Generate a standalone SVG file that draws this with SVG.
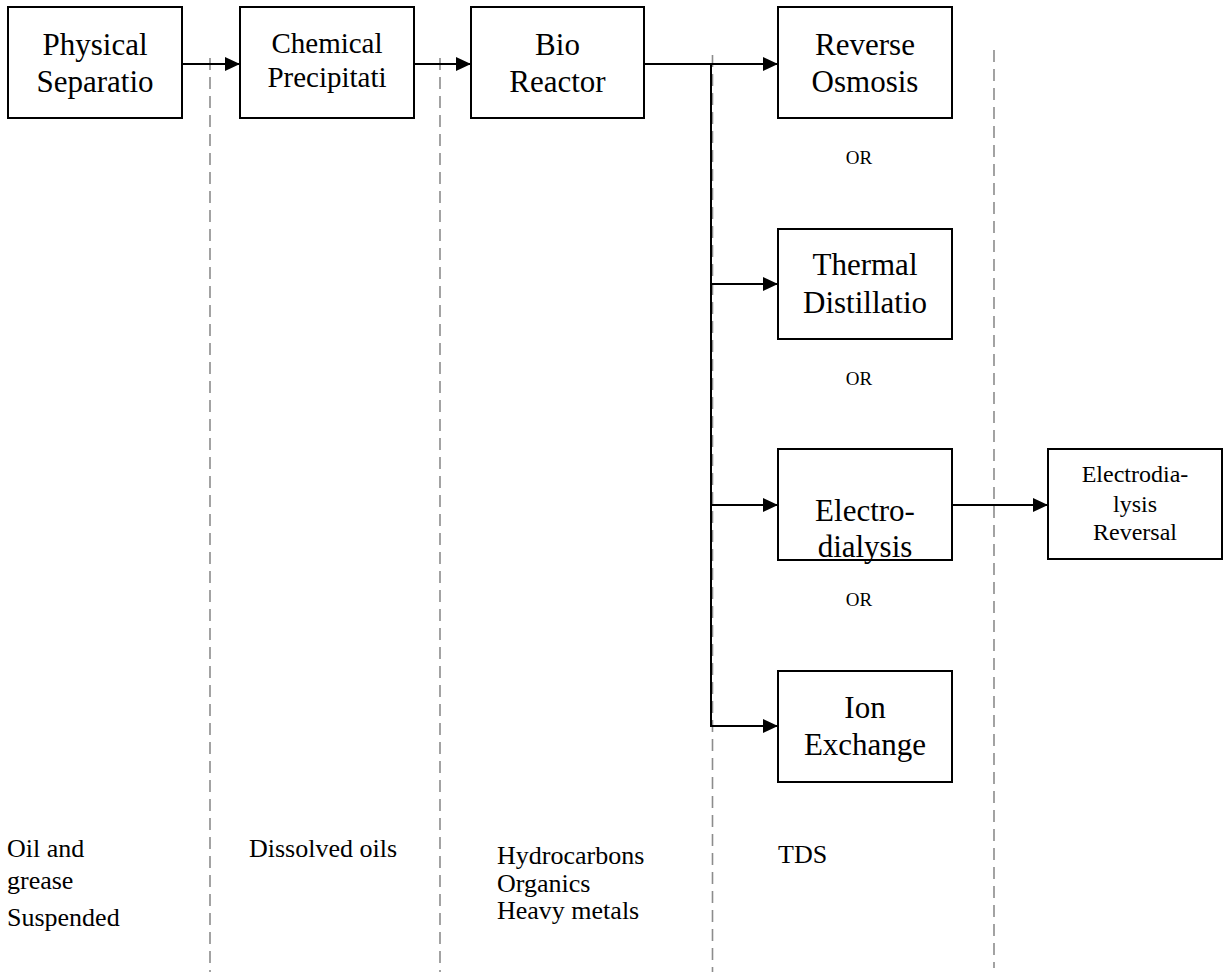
<svg xmlns="http://www.w3.org/2000/svg" width="1225" height="976" viewBox="0 0 1225 976">
<style>
.box{fill:#fff;stroke:#000;stroke-width:2}
text{font-family:'Liberation Serif','Times New Roman',Times,serif;fill:#000}
.t{text-anchor:middle}
.big{font-size:31px}
.mid{font-size:29px}
.sm{font-size:24px}
.or{font-size:19px}
.lab{font-size:26px}
.dash{stroke:#8c8c8c;stroke-width:1.6;stroke-dasharray:12 7;fill:none}
.con{stroke:#000;stroke-width:2;fill:none}
</style>
<defs>
<marker id="ah" markerUnits="userSpaceOnUse" markerWidth="15" markerHeight="14" refX="15" refY="7" orient="auto">
<path d="M0,0 L15,7 L0,14 z" fill="#000"/>
</marker>
</defs>
<rect width="1225" height="976" fill="#fff"/>
<g id="dividers">
<line class="dash" x1="210" y1="58" x2="210" y2="972"/>
<line class="dash" x1="440" y1="58" x2="440" y2="972"/>
<line class="dash" x1="712.5" y1="55" x2="712.5" y2="972"/>
<line class="dash" x1="994" y1="50" x2="994" y2="968"/>
</g>
<g id="connectors">
<line class="con" x1="182" y1="64" x2="240" y2="64" marker-end="url(#ah)"/>
<line class="con" x1="414" y1="64" x2="471" y2="64" marker-end="url(#ah)"/>
<line class="con" x1="644" y1="64" x2="712" y2="64" stroke-width="2.5"/>
<line class="con" x1="711" y1="64" x2="778" y2="64" marker-end="url(#ah)"/>
<line class="con" x1="711" y1="63" x2="711" y2="727"/>
<line class="con" x1="711" y1="284" x2="778" y2="284" marker-end="url(#ah)"/>
<line class="con" x1="711" y1="505" x2="778" y2="505" marker-end="url(#ah)"/>
<line class="con" x1="711" y1="726" x2="778" y2="726" marker-end="url(#ah)"/>
<line class="con" x1="952" y1="505" x2="1048" y2="505" marker-end="url(#ah)"/>
</g>
<g id="physical">
<rect class="box" x="8" y="7" width="174" height="111"/>
<text class="t big" x="95" y="55" font-family="Liberation Serif">Physical</text>
<text class="t big" x="95" y="92" font-family="Liberation Serif">Separatio</text>
</g>
<g id="chemical">
<rect class="box" x="240" y="7" width="174" height="111"/>
<text class="t mid" x="327" y="53">Chemical</text>
<text class="t mid" x="327" y="87">Precipitati</text>
</g>
<g id="bio">
<rect class="box" x="471" y="7" width="173" height="111"/>
<text class="t big" x="557.5" y="55">Bio</text>
<text class="t big" x="557.5" y="92">Reactor</text>
</g>
<g id="ro">
<rect class="box" x="778" y="7" width="174" height="111"/>
<text class="t big" x="865" y="55">Reverse</text>
<text class="t big" x="865" y="92">Osmosis</text>
</g>
<g id="thermal">
<rect class="box" x="778" y="229" width="174" height="110"/>
<text class="t big" x="865" y="275">Thermal</text>
<text class="t big" x="865" y="313">Distillatio</text>
</g>
<g id="ed">
<rect class="box" x="778" y="449" width="174" height="111"/>
<text class="t big" x="865" y="521">Electro-</text>
<text class="t big" x="865" y="557">dialysis</text>
</g>
<g id="ion">
<rect class="box" x="778" y="671" width="174" height="111"/>
<text class="t big" x="865" y="718">Ion</text>
<text class="t big" x="865" y="755">Exchange</text>
</g>
<g id="edr">
<rect class="box" x="1048" y="449" width="174" height="110"/>
<text class="t sm" x="1135" y="482">Electrodia-</text>
<text class="t sm" x="1135" y="512">lysis</text>
<text class="t sm" x="1135" y="540">Reversal</text>
</g>
<g id="or-labels">
<text class="t or" x="859" y="164">OR</text>
<text class="t or" x="859" y="385">OR</text>
<text class="t or" x="859" y="606">OR</text>
</g>
<g id="contaminants">
<text class="lab" x="7" y="857">Oil and</text>
<text class="lab" x="7" y="889">grease</text>
<text class="lab" x="7" y="926">Suspended</text>
<text class="lab" x="249" y="857">Dissolved oils</text>
<text class="lab" x="497" y="864">Hydrocarbons</text>
<text class="lab" x="497" y="892">Organics</text>
<text class="lab" x="497" y="919">Heavy metals</text>
<text class="lab" x="778" y="863">TDS</text>
</g>
</svg>
